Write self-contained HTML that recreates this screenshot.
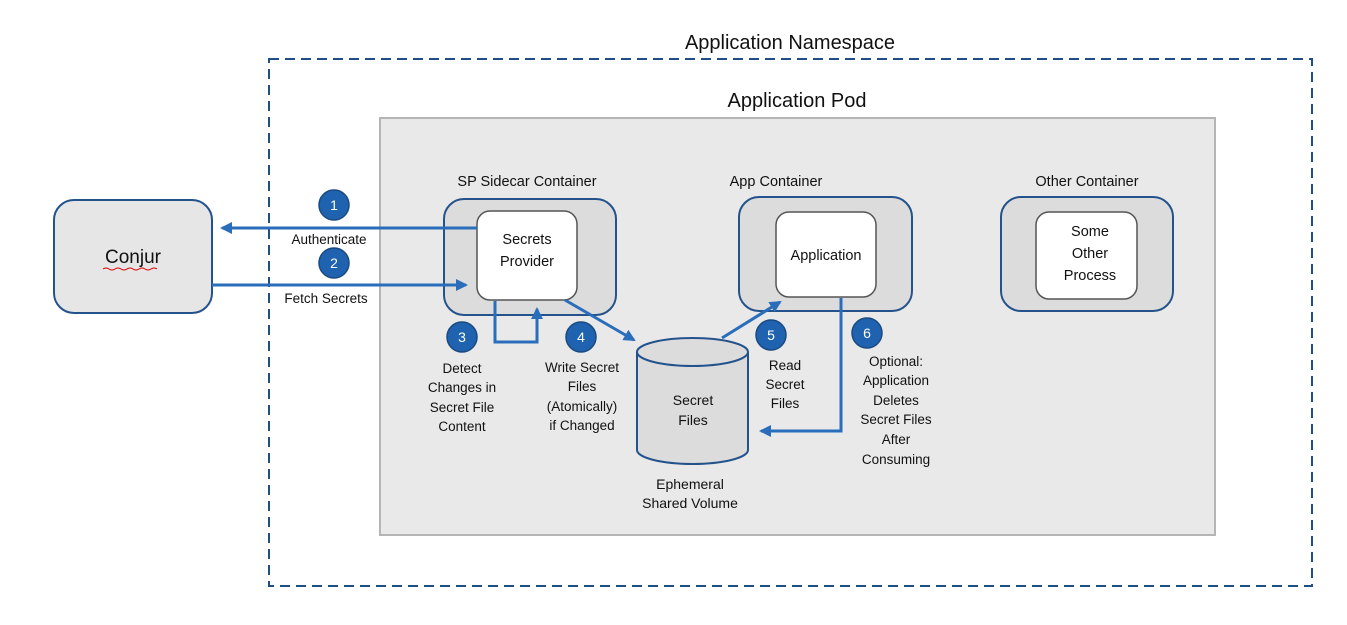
<!DOCTYPE html>
<html><head><meta charset="utf-8"><style>
html,body{margin:0;padding:0;background:#fff;}
svg{display:block;font-family:"Liberation Sans",sans-serif;}
</style></head><body>
<svg width="1347" height="625" viewBox="0 0 1347 625" xmlns="http://www.w3.org/2000/svg">
<defs>
<marker id="ah2" markerWidth="12" markerHeight="12" refX="10" refY="6" orient="auto" markerUnits="userSpaceOnUse" viewBox="0 0 12 12">
<path d="M0,0 L12,6 L0,12 z" fill="#2a6ebb"/>
</marker>
</defs>
<text x="790" y="49" font-size="20" text-anchor="middle" fill="#111">Application Namespace</text>
<rect x="269" y="59" width="1043" height="527" fill="none" stroke="#1f4e85" stroke-width="2" stroke-dasharray="10,6"/>
<text x="797" y="107" font-size="20" text-anchor="middle" fill="#111">Application Pod</text>
<rect x="380" y="118" width="835" height="417" fill="#e9e9e9" stroke="#b5b5b5" stroke-width="2"/>

<rect x="54" y="200" width="158" height="113" rx="20" fill="#e6e6e6" stroke="#24538c" stroke-width="2"/>
<text x="133" y="263" font-size="19" text-anchor="middle" fill="#111">Conjur</text>
<path d="M103,269 q3,-2 6,0 t6,0 t6,0 t6,0 t6,0 t6,0 t6,0 t6,0 t6,0" fill="none" stroke="#d00" stroke-width="1"/>

<text x="527" y="186" font-size="14.5" text-anchor="middle" fill="#111">SP Sidecar Container</text>
<rect x="444" y="199" width="172" height="116" rx="20" fill="#dcdcdc" stroke="#24538c" stroke-width="2"/>
<rect x="477" y="211" width="100" height="89" rx="13" fill="#fff" stroke="#555" stroke-width="1.5"/>
<text x="527" y="244" font-size="14.5" text-anchor="middle" fill="#111">Secrets</text>
<text x="527" y="266" font-size="14.5" text-anchor="middle" fill="#111">Provider</text>

<text x="776" y="186" font-size="14.5" text-anchor="middle" fill="#111">App Container</text>
<rect x="739" y="197" width="173" height="114" rx="20" fill="#dcdcdc" stroke="#24538c" stroke-width="2"/>
<rect x="776" y="212" width="100" height="85" rx="13" fill="#fff" stroke="#555" stroke-width="1.5"/>
<text x="826" y="260" font-size="14.5" text-anchor="middle" fill="#111">Application</text>

<text x="1087" y="186" font-size="14.5" text-anchor="middle" fill="#111">Other Container</text>
<rect x="1001" y="197" width="172" height="114" rx="20" fill="#dcdcdc" stroke="#24538c" stroke-width="2"/>
<rect x="1036" y="212" width="101" height="87" rx="13" fill="#fff" stroke="#555" stroke-width="1.5"/>
<text x="1090" y="236" font-size="14.5" text-anchor="middle" fill="#111">Some</text>
<text x="1090" y="258" font-size="14.5" text-anchor="middle" fill="#111">Other</text>
<text x="1090" y="280" font-size="14.5" text-anchor="middle" fill="#111">Process</text>

<path d="M637,352 L637,450 A55.5,14 0 0 0 748,450 L748,352" fill="#dcdcdc" stroke="#24538c" stroke-width="2"/>
<ellipse cx="692.5" cy="352" rx="55.5" ry="14" fill="#dcdcdc" stroke="#24538c" stroke-width="2"/>
<text x="693" y="405" font-size="14" text-anchor="middle" fill="#111">Secret</text>
<text x="693" y="425" font-size="14" text-anchor="middle" fill="#111">Files</text>
<text x="690" y="489" font-size="14" text-anchor="middle" fill="#111">Ephemeral</text>
<text x="690" y="508" font-size="14" text-anchor="middle" fill="#111">Shared Volume</text>

<g stroke="#2a6ebb" stroke-width="3" fill="none">
<line x1="477" y1="228" x2="222" y2="228" marker-end="url(#ah2)"/>
<line x1="212" y1="285" x2="466" y2="285" marker-end="url(#ah2)"/>
<polyline points="495,301 495,342 537,342 537,309" marker-end="url(#ah2)"/>
<line x1="565" y1="300" x2="634" y2="340" marker-end="url(#ah2)"/>
<line x1="722" y1="338" x2="780" y2="302" marker-end="url(#ah2)"/>
<polyline points="841,298 841,431 761,431" marker-end="url(#ah2)"/>
</g>

<g font-size="14" text-anchor="middle" fill="#fff">
<circle cx="334" cy="205" r="15" fill="#1f62b0" stroke="#1a4a80" stroke-width="1.5"/><text x="334" y="210">1</text>
<circle cx="334" cy="263" r="15" fill="#1f62b0" stroke="#1a4a80" stroke-width="1.5"/><text x="334" y="268">2</text>
<circle cx="462" cy="337" r="15" fill="#1f62b0" stroke="#1a4a80" stroke-width="1.5"/><text x="462" y="342">3</text>
<circle cx="581" cy="337" r="15" fill="#1f62b0" stroke="#1a4a80" stroke-width="1.5"/><text x="581" y="342">4</text>
<circle cx="771" cy="335" r="15" fill="#1f62b0" stroke="#1a4a80" stroke-width="1.5"/><text x="771" y="340">5</text>
<circle cx="867" cy="333" r="15" fill="#1f62b0" stroke="#1a4a80" stroke-width="1.5"/><text x="867" y="338">6</text>
</g>

<g font-size="13.5" text-anchor="middle" fill="#111">
<text x="329" y="244">Authenticate</text>
<text x="326" y="303">Fetch Secrets</text>
<text x="462" y="373">Detect</text>
<text x="462" y="392">Changes in</text>
<text x="462" y="412">Secret File</text>
<text x="462" y="431">Content</text>
<text x="582" y="372">Write Secret</text>
<text x="582" y="391">Files</text>
<text x="582" y="411">(Atomically)</text>
<text x="582" y="430">if Changed</text>
<text x="785" y="370">Read</text>
<text x="785" y="389">Secret</text>
<text x="785" y="408">Files</text>
<text x="896" y="366">Optional:</text>
<text x="896" y="385">Application</text>
<text x="896" y="405">Deletes</text>
<text x="896" y="424">Secret Files</text>
<text x="896" y="444">After</text>
<text x="896" y="464">Consuming</text>
</g>
</svg>
</body></html>
